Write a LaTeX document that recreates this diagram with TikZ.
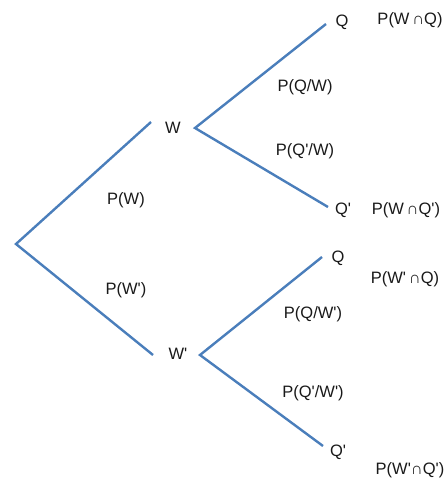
\documentclass[tikz,border=0pt]{standalone}
\usepackage{fontspec}
\newfontfamily\labelfont{Liberation Sans}
\definecolor{branchblue}{RGB}{74,126,187}
\begin{document}
\begin{tikzpicture}[x=1pt,y=-1pt,
		branch/.style={draw=branchblue,line width=2.4pt},
		lbl/.style={font=\labelfont\fontsize{16.5}{19}\selectfont,text=black!90,inner sep=0pt}]
	\useasboundingbox (0,0) rectangle (446,482);

			\coordinate (O) at (16,244);
			\coordinate (W) at (151,122);
			\coordinate (Wn) at (153,355);
			\coordinate (WQ) at (195,128);
			\coordinate (WnQ) at (200,355);
			\coordinate (Q1) at (326,24);
			\coordinate (Q2) at (328,207);
			\coordinate (Q3) at (322,257);
			\coordinate (Q4) at (323,446);

			\draw[branch] (W) -- (O) -- (Wn);
			\draw[branch] (Q1) -- (WQ) -- (Q2);
			\draw[branch] (Q3) -- (WnQ) -- (Q4);

			\node[lbl] (w) at (173,128) {W};
			\node[lbl] (wn) at (178,354) {W'};
			\node[lbl] (pw) at (126,200) {P(W)};
			\node[lbl] (pwn) at (126,290) {P(W')};

			\node[lbl] (q1) at (342,22) {Q};
			\node[lbl] (q2) at (343,210) {Q'};
			\node[lbl] (q3) at (338,258) {Q};
			\node[lbl] (q4) at (338,452) {Q'};

			\node[lbl] (pqw) at (305,87) {P(Q/W)};
			\node[lbl] (pqnw) at (305,151) {P(Q'/W)};
			\node[lbl] (pqwn) at (313,314) {P(Q/W')};
			\node[lbl] (pqnwn) at (313,393) {P(Q'/W')};

			\node[lbl] (j1) at (410,20) {P(W\,∩Q)};
			\node[lbl] (j2) at (406,210) {P(W\,∩Q')};
			\node[lbl] (j3) at (405,279) {P(W'\,∩Q)};
			\node[lbl] (j4) at (410,470) {P(W'∩Q')};
		\end{tikzpicture}
\end{document}
